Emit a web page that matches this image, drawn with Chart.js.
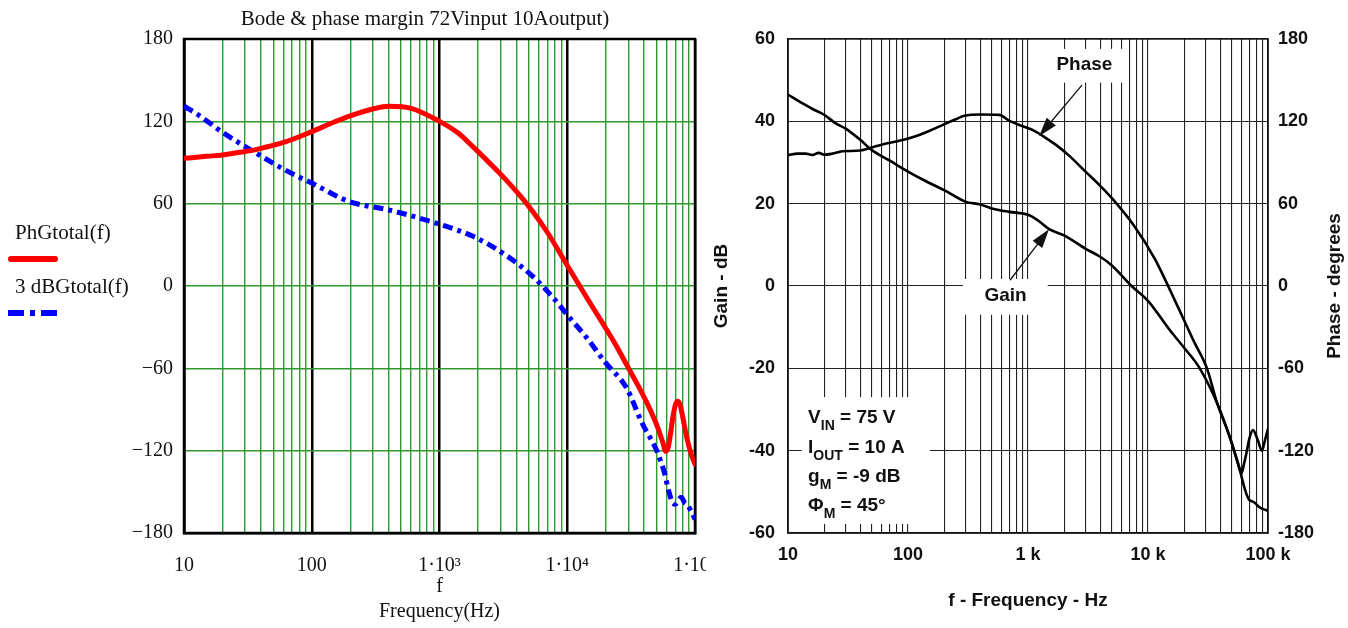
<!DOCTYPE html>
<html>
<head>
<meta charset="utf-8">
<script src="https://cdn.jsdelivr.net/npm/chart.js@4.4.1/dist/chart.umd.min.js"></script>
<style>
  html, body { margin: 0; padding: 0; background: #fff; width: 1348px; height: 628px; overflow: hidden; }
  #wrapL { position: absolute; left: 0; top: 0; width: 740px; height: 628px; background: #fff; }
  #wrapR { position: absolute; left: 706px; top: 0; width: 642px; height: 628px; background: #fff; }
  canvas { display: block; }
</style>
</head>
<body>
<div id="wrapL"><canvas id="bodeL" width="740" height="628"></canvas></div>
<div id="wrapR"><canvas id="bodeR" width="642" height="628"></canvas></div>
<script>
// ---------- Left plot: Mathcad-style loop response (72 V in, 10 A out) ----------
const titleLeft = 'Bode & phase margin 72Vinput 10Aoutput)';

// PhGtotal(f) – phase, degrees
const phgFreqHz = [10, 15, 20, 30, 35, 45, 62, 100, 150, 200, 300, 400, 600, 1000, 1400, 1850, 2500, 3300, 4300, 5400, 7000, 10000, 14000, 18600, 24000, 30000, 37000, 45000, 51000, 56000, 59000, 61500, 64000, 67000, 70000, 73000, 76000, 80000, 86000, 93000, 100000];
const phgDeg    = [93, 94.5, 95.5, 98, 99, 101.5, 105, 112.5, 119.5, 124, 129, 131, 129.5, 120, 111.5, 101, 89, 77.5, 65.5, 54, 39, 15, -7.5, -26, -43, -59.5, -75, -91, -103, -114, -120.5, -118, -109, -96, -87, -84, -86, -95, -110, -122, -130];

// 3 dBGtotal(f) – three times the gain in dB
const dbgFreqHz = [10, 12.8, 20, 35, 62, 100, 197, 398, 1000, 1850, 3300, 5400, 8000, 10200, 14000, 20000, 29000, 38600, 49600, 54000, 58000, 61000, 63000, 66000, 70000, 74000, 78000, 83000, 88000, 94000, 100000];
const dbgValue  = [131, 125, 112, 98, 84.5, 75, 61.5, 55.5, 45, 36, 22.5, 6.8, -10, -22, -37, -56, -74, -100, -119, -128, -137, -146, -151, -157, -159, -156, -154, -158, -160, -165, -170];

const leftYTicks      = [-180, -120, -60, 0, 60, 120, 180];
const leftYTickLabels = ['\u2212180', '\u2212120', '\u221260', '0', '60', '120', '180'];
const leftXTickLabels = ['10', '100', '1\u00b710\u00b3', '1\u00b710\u2074', '1\u00b710\u2075'];

// ---------- Right plot: measured gain / phase (75 V in, 10 A out) ----------
const gainFreqHz = [10, 13, 16, 20, 25, 30, 40, 50, 70, 100, 140, 200, 300, 400, 520, 700, 1000, 1200, 1500, 2000, 3000, 4000, 5000, 7300, 10000, 15000, 20000, 27000, 37600, 48000, 58500, 61000, 66000, 70000, 74000, 78000, 83000, 88000, 100000];
const gainDb     = [46.5, 44.5, 43, 41.6, 39.5, 38.3, 35.5, 33, 30.5, 27.8, 25.5, 23.3, 20.5, 19.8, 18.7, 18, 17.3, 16, 13.8, 12.3, 9.1, 7.1, 5, 0, -3.6, -10.5, -15, -20, -28.4, -36.7, -44.8, -47, -50.5, -52, -52.3, -52.7, -53.5, -54, -54.6];

const phaseFreqHz = [10, 12, 14, 16, 18, 20, 23, 26, 28.4, 40, 50, 60, 83, 114, 150, 199, 250, 295, 400, 576, 700, 900, 1130, 1400, 1700, 2200, 3000, 4000, 5000, 7600, 11400, 15600, 19800, 24000, 31000, 37600, 48000, 56000, 60000, 63000, 66000, 70000, 75000, 82000, 89000, 94000, 100000];
const phaseDeg    = [95.3, 96.5, 96.5, 95.5, 97, 95.7, 96.3, 97.5, 98.2, 98.7, 101, 103, 105.6, 109, 113, 117.8, 121.5, 124, 125, 124.7, 120.3, 116.5, 113, 108, 103, 95, 83.5, 73, 64, 44.3, 19.8, -4.7, -24.2, -40, -60, -85, -110, -129, -136.7, -130, -122, -111, -105, -112, -120, -113, -104];

const gainTicks        = [-60, -40, -20, 0, 20, 40, 60];
const gainTickLabels   = ['-60', '-40', '-20', '0', '20', '40', '60'];
const phaseTicks       = [-180, -120, -60, 0, 60, 120, 180];
const phaseTickLabels  = ['-180', '-120', '-60', '0', '60', '120', '180'];
const rightXTickLabels = ['10', '100', '1 k', '10 k', '100 k'];

// Operating-point notes drawn inside the right plot
const noteLines = [
  [['V', 0], ['IN', 1], [' = 75 V', 0]],
  [['I', 0], ['OUT', 1], [' = 10 A', 0]],
  [['g', 0], ['M', 1], [' = -9 dB', 0]],
  [['\u03a6', 0], ['M', 1], [' = 45\u00b0', 0]]
];

// ---------- helpers ----------
const pairs = (xs, ys) => xs.map((x, i) => ({ x: x, y: ys[i] }));
const isDecade = v => Math.abs(Math.log10(v) - Math.round(Math.log10(v))) < 1e-6;
function logGridTicks(min, max) {
  const out = [];
  for (let e = Math.floor(Math.log10(min)); e <= Math.ceil(Math.log10(max)); e++) {
    for (let m = 1; m <= 9; m++) {
      const v = m * Math.pow(10, e);
      if (v >= min * 0.999 && v <= max * 1.001) out.push({ value: v });
    }
  }
  return out;
}
const decadeLabel = (labels, v) => isDecade(v) ? labels[Math.round(Math.log10(v)) - 1] : '';

const SERIF = '"Liberation Serif", "Times New Roman", serif';
const SANS = '"Liberation Sans", Arial, sans-serif';
const GREEN = '#2f9a2f';

// ---------- left chart ----------
const leftDecor = {
  id: 'leftDecor',
  beforeDatasetsDraw(chart) {
    const { ctx, chartArea: a } = chart;
    ctx.save();
    ctx.strokeStyle = '#000';
    ctx.lineWidth = 2.5;
    ctx.strokeRect(a.left, a.top, a.right - a.left, a.bottom - a.top);
    ctx.restore();
  },
  afterDraw(chart) {
    const { ctx } = chart;
    ctx.save();
    ctx.fillStyle = '#111';
    ctx.font = '21px ' + SERIF;
    ctx.textAlign = 'center';
    ctx.textBaseline = 'middle';
    ctx.fillText(titleLeft, 425, 19);
    // legend, stacked at the left edge
    ctx.textAlign = 'left';
    ctx.font = '21px ' + SERIF;
    chart.data.datasets.forEach((ds, i) => {
      const y0 = 233 + i * 54;
      ctx.fillStyle = '#111';
      ctx.fillText(ds.label, 15, y0);
      ctx.strokeStyle = ds.borderColor;
      ctx.lineWidth = 6;
      ctx.lineCap = i === 0 ? 'round' : 'butt';
      ctx.setLineDash(i === 0 ? [] : [16, 6, 5, 6]);
      ctx.beginPath();
      ctx.moveTo(i === 0 ? 11 : 8, y0 + 26);
      ctx.lineTo(i === 0 ? 55 : 57, y0 + 26);
      ctx.stroke();
    });
    ctx.restore();
  }
};

new Chart(document.getElementById('bodeL'), {
  type: 'line',
  data: {
    datasets: [
      {
        label: 'PhGtotal(f)',
        data: pairs(phgFreqHz, phgDeg),
        borderColor: '#ff0000',
        borderWidth: 5,
        pointRadius: 0,
        cubicInterpolationMode: 'monotone',
        borderCapStyle: 'round',
        borderJoinStyle: 'round'
      },
      {
        label: '3 dBGtotal(f)',
        data: pairs(dbgFreqHz, dbgValue),
        borderColor: '#0000ff',
        borderWidth: 5,
        borderDash: [10, 5, 4, 5],
        pointRadius: 0,
        cubicInterpolationMode: 'monotone'
      }
    ]
  },
  options: {
    responsive: false,
    animation: false,
    devicePixelRatio: 1,
    layout: { padding: { left: 114, right: 45, top: 39, bottom: 0 } },
    plugins: { legend: { display: false }, tooltip: { enabled: false }, title: { display: false } },
    scales: {
      x: {
        type: 'logarithmic',
        min: 10,
        max: 100000,
        afterBuildTicks: s => { s.ticks = logGridTicks(10, 100000); },
        afterFit: s => { s.height = 95; },
        grid: {
          color: c => (c.tick && isDecade(c.tick.value)) ? '#000' : GREEN,
          lineWidth: c => (c.tick && isDecade(c.tick.value)) ? 2.5 : 1.4,
          drawTicks: false
        },
        border: { display: true, color: '#000', width: 2.5 },
        ticks: {
          autoSkip: false,
          maxRotation: 0,
          padding: 21,
          color: '#111',
          font: { family: SERIF, size: 20 },
          callback: v => decadeLabel(leftXTickLabels, v)
        },
        title: {
          display: true,
          text: ['f', 'Frequency(Hz)'],
          color: '#111',
          font: { family: SERIF, size: 20, lineHeight: 1.25 },
          padding: { top: 0, bottom: 3.5 }
        }
      },
      y: {
        min: -180,
        max: 180,
        afterBuildTicks: s => { s.ticks = leftYTicks.map(v => ({ value: v })); },
        afterFit: s => { s.width = 70; },
        grid: { color: GREEN, lineWidth: 1.4, drawTicks: false },
        border: { display: true, color: '#000', width: 2.5 },
        ticks: {
          padding: 11,
          color: '#111',
          font: { family: SERIF, size: 20 },
          callback: (v, i) => leftYTickLabels[leftYTicks.indexOf(v)]
        }
      }
    }
  },
  plugins: [leftDecor]
});

// ---------- right chart ----------
// white backing boxes for the notes, in (frequency, dB) units
const noteBoxes = [
  { f0: 1670, f1: 6600, g0: 57.6, g1: 49.4 },   // "Phase"
  { f0: 287, f1: 1460, g0: 1.7, g1: -7 },       // "Gain"
  { f0: 13, f1: 152, g0: -27, g1: -57.8 }       // operating point
];
const noteLabels = [
  { text: 'Phase', f: 2950, g: 53.8 },
  { text: 'Gain', f: 650, g: -2.4 }
];
const noteArrows = [
  { f0: 2818, g0: 48.8, f1: 1236, g1: 36.4 },
  { f0: 708, g0: 1.4, f1: 1496, g1: 13.8 }
];
const noteTextAnchor = { f: 14.7, g: [-31.8, -39.1, -46.1, -53.2] };

const rightDecor = {
  id: 'rightDecor',
  beforeDatasetsDraw(chart) {
    const { ctx, chartArea: a, scales } = chart;
    const x = scales.x, y = scales.yG;
    ctx.save();
    ctx.strokeStyle = '#111';
    ctx.lineWidth = 1.4;
    ctx.strokeRect(a.left, a.top, a.right - a.left, a.bottom - a.top);
    ctx.fillStyle = '#fff';
    noteBoxes.forEach(b => {
      const x0 = x.getPixelForValue(b.f0), x1 = x.getPixelForValue(b.f1);
      const y0 = y.getPixelForValue(b.g0), y1 = y.getPixelForValue(b.g1);
      ctx.fillRect(x0, y0, x1 - x0, y1 - y0);
    });
    ctx.restore();
  },
  afterDatasetsDraw(chart) {
    const { ctx, scales } = chart;
    const x = scales.x, y = scales.yG;
    ctx.save();
    ctx.fillStyle = '#111';
    ctx.strokeStyle = '#111';
    ctx.font = 'bold 19px ' + SANS;
    ctx.textAlign = 'center';
    ctx.textBaseline = 'middle';
    noteLabels.forEach(n => ctx.fillText(n.text, x.getPixelForValue(n.f), y.getPixelForValue(n.g)));
    // arrows from label to curve
    noteArrows.forEach(r => {
      const sx = x.getPixelForValue(r.f0), sy = y.getPixelForValue(r.g0);
      const tx = x.getPixelForValue(r.f1), ty = y.getPixelForValue(r.g1);
      const ang = Math.atan2(ty - sy, tx - sx);
      const L = 19, W = 6;
      ctx.lineWidth = 1.3;
      ctx.beginPath();
      ctx.moveTo(sx, sy);
      ctx.lineTo(tx - Math.cos(ang) * L * 0.8, ty - Math.sin(ang) * L * 0.8);
      ctx.stroke();
      const bx = tx - Math.cos(ang) * L, by = ty - Math.sin(ang) * L;
      ctx.beginPath();
      ctx.moveTo(tx, ty);
      ctx.lineTo(bx + Math.sin(ang) * W, by - Math.cos(ang) * W);
      ctx.lineTo(bx - Math.sin(ang) * W, by + Math.cos(ang) * W);
      ctx.closePath();
      ctx.fill();
    });
    // operating-point text with subscripts
    ctx.textAlign = 'left';
    ctx.textBaseline = 'alphabetic';
    const px = x.getPixelForValue(noteTextAnchor.f);
    noteLines.forEach((parts, i) => {
      let cx = px;
      const base = y.getPixelForValue(noteTextAnchor.g[i]) + 6;
      parts.forEach(([t, sub]) => {
        ctx.font = sub ? 'bold 14px ' + SANS : 'bold 19px ' + SANS;
        ctx.fillText(t, cx, sub ? base + 7 : base);
        cx += ctx.measureText(t).width;
      });
    });
    ctx.restore();
  },
  afterDraw(chart) {
    const { ctx, chartArea: a } = chart;
    ctx.save();
    ctx.fillStyle = '#111';
    ctx.font = 'bold 19px ' + SANS;
    ctx.textAlign = 'center';
    ctx.textBaseline = 'middle';
    ctx.translate(629, (a.top + a.bottom) / 2);
    ctx.rotate(-Math.PI / 2);
    ctx.fillText('Phase - degrees', 0, 0);
    ctx.restore();
  }
};

new Chart(document.getElementById('bodeR'), {
  type: 'line',
  data: {
    datasets: [
      {
        label: 'Gain',
        data: pairs(gainFreqHz, gainDb),
        yAxisID: 'yG',
        borderColor: '#000',
        borderWidth: 2.6,
        pointRadius: 0,
        cubicInterpolationMode: 'monotone'
      },
      {
        label: 'Phase',
        data: pairs(phaseFreqHz, phaseDeg),
        yAxisID: 'yP',
        borderColor: '#000',
        borderWidth: 2.6,
        pointRadius: 0,
        cubicInterpolationMode: 'monotone'
      }
    ]
  },
  options: {
    responsive: false,
    animation: false,
    devicePixelRatio: 1,
    layout: { padding: { left: 0, right: 0, top: 39, bottom: 0 } },
    plugins: { legend: { display: false }, tooltip: { enabled: false }, title: { display: false } },
    scales: {
      x: {
        type: 'logarithmic',
        min: 10,
        max: 100000,
        afterBuildTicks: s => { s.ticks = logGridTicks(10, 100000); },
        afterFit: s => { s.height = 95; },
        grid: { color: '#222', lineWidth: 1.1, drawTicks: false },
        border: { display: true, color: '#111', width: 1.4 },
        ticks: {
          autoSkip: false,
          maxRotation: 0,
          padding: 11,
          color: '#111',
          font: { family: SANS, size: 18, weight: 'bold' },
          callback: v => decadeLabel(rightXTickLabels, v)
        },
        title: {
          display: true,
          text: 'f - Frequency - Hz',
          color: '#111',
          font: { family: SANS, size: 19, weight: 'bold', lineHeight: 1.2 },
          padding: { top: 0, bottom: 15.5 }
        }
      },
      yG: {
        position: 'left',
        min: -60,
        max: 60,
        afterBuildTicks: s => { s.ticks = gainTicks.map(v => ({ value: v })); },
        afterFit: s => { s.width = 82; },
        grid: { color: '#222', lineWidth: 1.1, drawTicks: false },
        border: { display: true, color: '#111', width: 1.4 },
        ticks: {
          padding: 13,
          color: '#111',
          font: { family: SANS, size: 18, weight: 'bold' },
          callback: v => gainTickLabels[gainTicks.indexOf(v)]
        },
        title: {
          display: true,
          text: 'Gain - dB',
          color: '#111',
          font: { family: SANS, size: 19, weight: 'bold', lineHeight: 1.2 },
          padding: { top: 4, bottom: 0 }
        }
      },
      yP: {
        position: 'right',
        min: -180,
        max: 180,
        afterBuildTicks: s => { s.ticks = phaseTicks.map(v => ({ value: v })); },
        afterFit: s => { s.width = 80; },
        grid: { display: false, drawTicks: false },
        border: { display: true, color: '#111', width: 1.4 },
        ticks: {
          padding: 10,
          color: '#111',
          font: { family: SANS, size: 18, weight: 'bold' },
          callback: v => phaseTickLabels[phaseTicks.indexOf(v)]
        }
      }
    }
  },
  plugins: [rightDecor]
});
</script>
</body>
</html>
